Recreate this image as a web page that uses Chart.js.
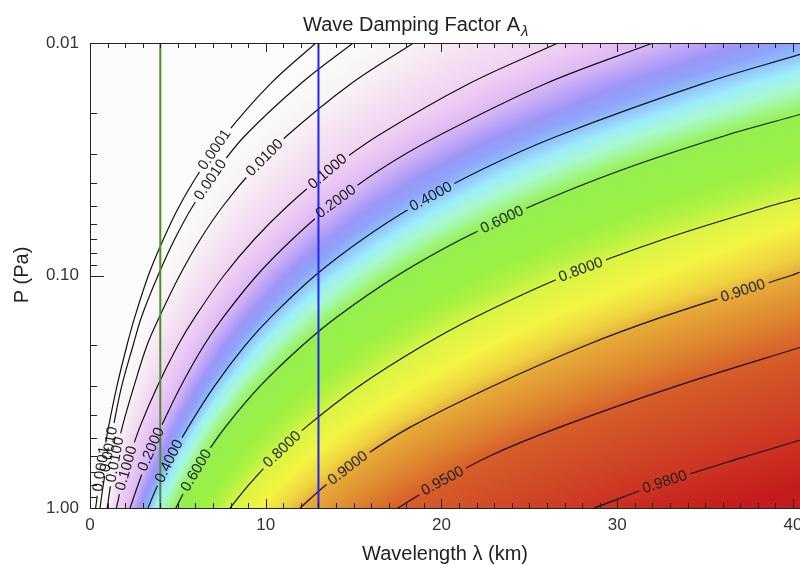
<!DOCTYPE html>
<html>
<head>
<meta charset="utf-8">
<script src="https://cdn.jsdelivr.net/npm/chart.js@4.4.1/dist/chart.umd.min.js"></script>
<style>
  html, body { margin: 0; padding: 0; background: #fff; overflow: hidden; }
</style>
</head>
<body>
<canvas id="chart" width="800" height="565"></canvas>
<script>
const FONT = "'Liberation Sans', Arial, Helvetica, sans-serif";

// contour levels of the damping factor
const levels = [0.0001, 0.001, 0.01, 0.1, 0.2, 0.4, 0.6, 0.8, 0.9, 0.95, 0.98];
// pressure rows (Pa) at which each contour's wavelength was taken
const pRows = [1.0, 0.8, 0.6, 0.45, 0.3, 0.2, 0.15, 0.1, 0.07, 0.05, 0.035, 0.025, 0.015, 0.01];

// wavelength (km) of each contour along pRows, null where it is past the right edge
const lam0001 = [0.32, 0.50, 0.76, 1.05, 1.53, 2.10, 2.56, 3.32, 4.17, 5.10, 6.32, 7.67, 10.26, 12.85];
const lam001 = [0.57, 0.75, 1.02, 1.32, 1.80, 2.45, 2.94, 3.87, 4.81, 5.87, 7.27, 8.83, 11.97, 14.97];
const lam01 = [0.98, 1.17, 1.47, 1.83, 2.50, 3.24, 3.96, 5.10, 6.27, 7.59, 9.29, 11.22, 14.83, 18.41];
const lam1 = [1.50, 1.80, 2.27, 2.83, 3.83, 5.00, 6.00, 7.62, 9.34, 11.27, 13.68, 16.40, 21.53, 26.63];
const lam2 = [2.28, 2.72, 3.32, 4.03, 5.16, 6.48, 7.62, 9.49, 11.50, 13.71, 16.52, 19.85, 25.88, 32.03];
const lam4 = [3.30, 3.84, 4.65, 5.58, 7.07, 8.83, 10.33, 12.81, 15.49, 18.49, 22.30, 26.68, 34.83, null];
const lam6 = [4.89, 5.55, 6.53, 7.69, 9.66, 12.08, 14.09, 17.49, 21.11, 25.18, 30.33, 36.17, null, null];
const lam8 = [7.97, 9.01, 10.53, 12.27, 15.28, 18.95, 22.00, 27.09, 32.60, 38.81, null, null, null, null];
const lam9 = [11.95, 13.39, 15.57, 18.20, 22.88, 28.20, 32.66, 39.90, null, null, null, null, null, null];
const lam95 = [17.52, 19.62, 22.69, 26.70, 33.32, null, null, null, null, null, null, null, null, null];
const lam98 = [28.70, 32.13, 37.33, null, null, null, null, null, null, null, null, null, null, null];
// pressure where a contour runs out through the right edge (null: it ends on the top edge)
const exitP = [null, null, null, null, null, 0.0112, 0.0203, 0.0464, 0.0968, 0.204, 0.511];

// where the level labels sit along each contour (pressure), upper and lower copies
const labelUpperP = [0.0288, 0.0388, 0.0312, 0.0358, 0.0482, 0.0459, 0.0577, 0.0947, 0.1166, null, null];
const labelLowerP = [0.68, 0.56, 0.62, 0.675, 0.56, 0.63, 0.69, 0.56, 0.675, 0.767, 0.775];

// marked wavelengths (km)
const markLam = [4, 13];

const xMax = 40.4;
const xTicks = [0, 10, 20, 30, 40];
const yTicks = [0.01, 0.1, 1];

// colour table for the damping factor
const shadeAt = [0, 0.0001, 0.001, 0.01, 0.05, 0.1, 0.15, 0.2, 0.25, 0.3, 0.35, 0.4, 0.45, 0.5, 0.55,
  0.6, 0.7, 0.75, 0.8, 0.84, 0.88, 0.9, 0.93, 0.95, 0.98, 1.0];
const shadeHex = ['#fbfbfb', '#fbfbfb', '#fafafa', '#f8f2f5', '#f4e2f2', '#f0d2f2', '#e8c4f4', '#dab8f4',
  '#bca4f6', '#9c96f6', '#8ea2fa', '#90c0fc', '#9eeefa', '#a8f8d0', '#a0f68c', '#94f050', '#9cf042',
  '#b4f242', '#d8f444', '#f4f442', '#eed040', '#e6ac38', '#dc7e2e', '#d65e2a', '#cc3222', '#c41c1c'];

const lamByLevel = [lam0001, lam001, lam01, lam1, lam2, lam4, lam6, lam8, lam9, lam95, lam98];

const shadeRGB = shadeHex.map(h => [1, 3, 5].map(i => parseInt(h.slice(i, i + 2), 16)));

function shade(v) {
  if (v <= shadeAt[0]) return shadeRGB[0];
  for (let i = 1; i < shadeAt.length; i++) {
    if (v <= shadeAt[i]) {
      const t = (v - shadeAt[i - 1]) / (shadeAt[i] - shadeAt[i - 1]);
      const a = shadeRGB[i - 1], b = shadeRGB[i];
      return [a[0] + (b[0] - a[0]) * t, a[1] + (b[1] - a[1]) * t, a[2] + (b[2] - a[2]) * t];
    }
  }
  return shadeRGB[shadeRGB.length - 1];
}

const contourSets = levels.map((lev, k) => {
  const pts = [];
  lamByLevel[k].forEach((lam, i) => {
    if (lam !== null) pts.push({ x: lam, y: pRows[i] });
  });
  if (exitP[k] !== null) pts.push({ x: xMax, y: exitP[k] });
  return {
    level: lev,
    data: pts,
    showLine: true,
    borderColor: '#111',
    borderWidth: 1.2,
    pointRadius: 0,
    tension: 0.35
  };
});

const markSets = [
  { data: [{ x: markLam[0], y: 0.01 }, { x: markLam[0], y: 1 }], borderColor: '#4e8c2c' },
  { data: [{ x: markLam[1], y: 0.01 }, { x: markLam[1], y: 1 }], borderColor: '#2424f4' }
].map(d => Object.assign(d, { showLine: true, borderWidth: 2, pointRadius: 0 }));

// pixel polyline of every contour, from the dataset points
function contourPixels(chart) {
  return contourSets.map((ds, k) => {
    const meta = chart.getDatasetMeta(markSets.length + k);
    return meta.data.map(p => ({ x: p.x, y: p.y }));
  });
}

function crossX(pts, y) {
  const n = pts.length;
  for (let i = 0; i < n - 1; i++) {
    const p = pts[i], q = pts[i + 1];
    if ((p.y - y) * (q.y - y) <= 0 && p.y !== q.y) {
      return p.x + (y - p.y) * (q.x - p.x) / (q.y - p.y);
    }
  }
  // past the traced span: carry on along the nearest end segment
  const [p, q] = y < pts[n - 1].y ? [pts[n - 2], pts[n - 1]] : [pts[0], pts[1]];
  return p.x + (y - p.y) * (q.x - p.x) / (q.y - p.y);
}

// fill the plot with the factor, taken between neighbouring contours on each row
function paintField(ctx, area, lines) {
  const w = Math.round(area.right - area.left);
  const h = Math.round(area.bottom - area.top);
  const off = document.createElement('canvas');
  off.width = w;
  off.height = h;
  const octx = off.getContext('2d');
  const img = octx.createImageData(w, h);
  const n = levels.length;
  for (let j = 0; j < h; j++) {
    const y = area.top + j + 0.5;
    const xs = lines.map(pts => crossX(pts, y));
    let k = 0;
    for (let i = 0; i < w; i++) {
      const x = area.left + i + 0.5;
      let v;
      while (k < n && x >= xs[k]) k++;
      if (k === 0) {
        v = 0;
      } else if (k === n) {
        const slope = (levels[n - 1] - levels[n - 2]) / (xs[n - 1] - xs[n - 2]);
        v = Math.min(1, levels[n - 1] + (x - xs[n - 1]) * slope);
      } else {
        const t = (x - xs[k - 1]) / (xs[k] - xs[k - 1]);
        v = levels[k - 1] + (levels[k] - levels[k - 1]) * t;
      }
      const c = shade(v);
      const o = (j * w + i) * 4;
      img.data[o] = c[0];
      img.data[o + 1] = c[1];
      img.data[o + 2] = c[2];
      img.data[o + 3] = 255;
    }
  }
  octx.putImageData(img, 0, 0);
  ctx.drawImage(off, area.left, area.top);
}

function placeLabels(chart, lines) {
  const ctx = chart.ctx;
  const ys = chart.scales.y;
  ctx.font = `15px ${FONT}`;
  const boxes = [];
  levels.forEach((lev, k) => {
    [labelUpperP[k], labelLowerP[k]].forEach(p => {
      if (p === null) return;
      const y = ys.getPixelForValue(p);
      const pts = lines[k];
      for (let i = 0; i < pts.length - 1; i++) {
        const a = pts[i], b = pts[i + 1];
        if ((a.y - y) * (b.y - y) <= 0 && a.y !== b.y) {
          const x = a.x + (y - a.y) * (b.x - a.x) / (b.y - a.y);
          const text = lev.toFixed(4);
          boxes.push({
            k, x, y, text,
            ang: Math.atan2(b.y - a.y, b.x - a.x),
            w: ctx.measureText(text).width + 8,
            h: 12
          });
          break;
        }
      }
    });
  });
  return boxes;
}

function boxPath(ctx, b) {
  const c = Math.cos(b.ang), s = Math.sin(b.ang);
  const hw = b.w / 2, hh = b.h / 2;
  const corners = [[-hw, -hh], [hw, -hh], [hw, hh], [-hw, hh]];
  corners.forEach(([u, v], i) => {
    const px = b.x + u * c - v * s;
    const py = b.y + u * s + v * c;
    if (i === 0) ctx.moveTo(px, py); else ctx.lineTo(px, py);
  });
  ctx.closePath();
}

const contourPlugin = {
  id: 'contours',
  beforeDatasetsDraw(chart) {
    const lines = contourPixels(chart);
    paintField(chart.ctx, chart.chartArea, lines);
    chart.$labels = placeLabels(chart, lines);
  },
  beforeDatasetDraw(chart, args) {
    const ds = chart.data.datasets[args.index];
    if (ds.level === undefined) return;
    const ctx = chart.ctx, a = chart.chartArea;
    const k = levels.indexOf(ds.level);
    ctx.save();
    ctx.beginPath();
    ctx.rect(a.left, a.top, a.right - a.left, a.bottom - a.top);
    chart.$labels.filter(b => b.k === k).forEach(b => boxPath(ctx, b));
    ctx.clip('evenodd');
  },
  afterDatasetDraw(chart, args) {
    if (chart.data.datasets[args.index].level === undefined) return;
    chart.ctx.restore();
  },
  afterDatasetsDraw(chart) {
    const ctx = chart.ctx;
    ctx.save();
    ctx.fillStyle = '#222';
    ctx.font = `15px ${FONT}`;
    ctx.textAlign = 'center';
    ctx.textBaseline = 'middle';
    chart.$labels.forEach(b => {
      ctx.save();
      ctx.translate(b.x, b.y);
      ctx.rotate(b.ang);
      ctx.fillText(b.text, 0, 0);
      ctx.restore();
    });
    ctx.restore();
  },
  afterDraw(chart) {
    const ctx = chart.ctx, a = chart.chartArea;
    const xs = chart.scales.x, ys = chart.scales.y;
    ctx.save();
    ctx.strokeStyle = '#222';
    ctx.lineWidth = 1;
    ctx.beginPath();
    ctx.moveTo(a.left + 0.5, a.top);
    ctx.lineTo(a.left + 0.5, a.bottom + 1);
    ctx.moveTo(a.left, a.top + 0.5);
    ctx.lineTo(a.right, a.top + 0.5);
    ctx.moveTo(a.left, a.bottom + 0.5);
    ctx.lineTo(a.right, a.bottom + 0.5);
    // ticks point into the plot
    for (let v = 0; v <= xMax; v++) {
      const px = Math.round(xs.getPixelForValue(v)) + 0.5;
      const len = v % 10 === 0 ? 9 : 5;
      ctx.moveTo(px, a.bottom);
      ctx.lineTo(px, a.bottom - len);
      ctx.moveTo(px, a.top);
      ctx.lineTo(px, a.top + len);
    }
    [0.01, 0.1].forEach(d => {
      for (let m = 1; m <= 10; m++) {
        const py = Math.round(ys.getPixelForValue(m * d)) + 0.5;
        const len = (m === 1 || m === 10) ? 14 : 7;
        ctx.moveTo(a.left, py);
        ctx.lineTo(a.left + len, py);
      }
    });
    ctx.stroke();

    ctx.fillStyle = '#222';
    ctx.textAlign = 'left';
    ctx.textBaseline = 'alphabetic';
    ctx.font = `20px ${FONT}`;
    const title = 'Wave Damping Factor A';
    ctx.fillText(title, 303, 31);
    const tw = ctx.measureText(title).width;
    ctx.font = `italic 15px ${FONT}`;
    ctx.fillText('λ', 303 + tw + 1, 36);

    ctx.font = `20px ${FONT}`;
    ctx.textAlign = 'center';
    ctx.fillText('Wavelength λ (km)', 445, 560);

    ctx.translate(28, 275);
    ctx.rotate(-Math.PI / 2);
    ctx.fillText('P (Pa)', 0, 0);
    ctx.restore();
  }
};

new Chart(document.getElementById('chart'), {
  type: 'scatter',
  data: { datasets: [...markSets, ...contourSets] },
  options: {
    responsive: false,
    animation: false,
    events: [],
    layout: { padding: { left: 0, right: 0, top: 43, bottom: 0 } },
    plugins: {
      legend: { display: false },
      tooltip: { enabled: false },
      title: { display: false }
    },
    scales: {
      x: {
        type: 'linear',
        min: 0,
        max: xMax,
        grid: { display: false, drawTicks: false },
        border: { display: false },
        afterBuildTicks: s => { s.ticks = xTicks.map(v => ({ value: v })); },
        afterFit: s => { s.height = 57; s.paddingLeft = 0; s.paddingRight = 0; },
        ticks: {
          padding: 7,
          color: '#333',
          maxRotation: 0,
          autoSkip: false,
          font: { family: FONT, size: 17 },
          callback: v => String(v)
        }
      },
      y: {
        type: 'logarithmic',
        min: 0.01,
        max: 1,
        reverse: true,
        grid: { display: false, drawTicks: false },
        border: { display: false },
        afterBuildTicks: s => { s.ticks = yTicks.map(v => ({ value: v })); },
        afterFit: s => { s.width = 90; s.paddingTop = 0; s.paddingBottom = 0; },
        ticks: {
          padding: 11,
          color: '#333',
          autoSkip: false,
          font: { family: FONT, size: 17 },
          callback: v => Number(v).toFixed(2)
        }
      }
    }
  },
  plugins: [contourPlugin]
});
</script>
</body>
</html>
